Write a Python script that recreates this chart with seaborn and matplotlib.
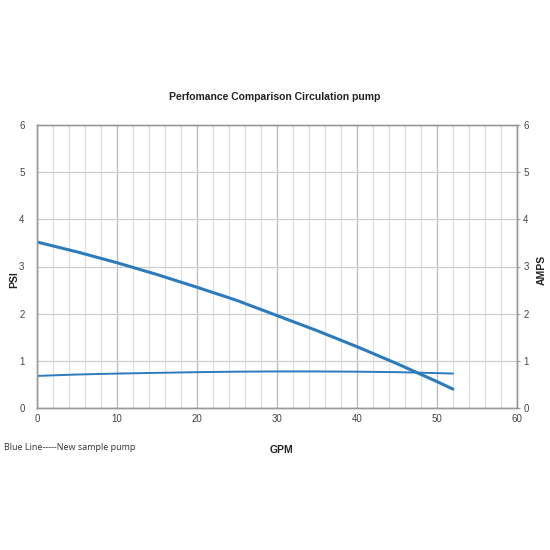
import numpy as np
import pandas as pd
import matplotlib
matplotlib.use("Agg")
import matplotlib.pyplot as plt
import seaborn as sns

gpm = [0, 5, 10, 15, 20, 25, 30, 35, 40, 45, 47.5, 50, 52]
psi = [3.52, 3.31, 3.08, 2.83, 2.56, 2.28, 1.96, 1.64, 1.30, 0.94, 0.75, 0.56, 0.40]
amps = [0.68, 0.71, 0.73, 0.745, 0.76, 0.77, 0.775, 0.775, 0.77, 0.76, 0.75, 0.74, 0.73]

df = pd.DataFrame({"GPM": gpm, "PSI": psi, "AMPS": amps})

sns.set_style("white")
plt.rcParams["font.family"] = ["Liberation Sans", "DejaVu Sans"]

fig = plt.figure(figsize=(5.5, 5.5), dpi=100)
ax = fig.add_axes([37 / 550, 1 - 408 / 550, 480 / 550, 283 / 550])
ax2 = ax.twinx()

blue = "#2b7bbd"
sns.lineplot(data=df, x="GPM", y="PSI", ax=ax, color=blue, linewidth=2.2)
sns.lineplot(data=df, x="GPM", y="AMPS", ax=ax2, color=blue, linewidth=1.4)

for a in (ax, ax2):
    a.set_ylim(0, 6)
    a.set_xlim(0, 60)
    a.set_yticks(range(0, 7))
    a.set_xlabel("")
    a.set_ylabel("")

ax.set_xticks(range(0, 61, 10))
ax.set_xticks(range(0, 61, 2), minor=True)
ax.grid(axis="x", which="minor", color="#e0e0e0", linewidth=0.9)
ax.grid(axis="x", which="major", color="#bdbdbd", linewidth=1.0)
ax.grid(axis="y", which="major", color="#cfcfcf", linewidth=0.9)
ax.set_axisbelow(True)

ax.tick_params(axis="both", which="both", length=0, labelsize=7, colors="#444444", pad=4)
ax2.tick_params(axis="y", length=2.5, labelsize=7, colors="#444444", pad=2, color="#999999")
ax.tick_params(axis="y", pad=9)

for a in (ax, ax2):
    for s in a.spines.values():
        s.set_color("#9a9a9a")
        s.set_linewidth(1.0)

fig.text(0.5, 1 - 97 / 550, "Perfomance Comparison Circulation pump",
         ha="center", va="center", fontsize=7.5, fontweight="bold", color="#222222")
fig.text(282 / 550, 1 - 450 / 550, "GPM", ha="center", va="center",
         fontsize=7.5, fontweight="bold", color="#222222")
fig.text(14 / 550, 1 - 280 / 550, "PSI", ha="center", va="center", rotation=90,
         fontsize=7.5, fontweight="bold", color="#222222")
fig.text(542 / 550, 1 - 270 / 550, "AMPS", ha="center", va="center", rotation=90,
         fontsize=7.5, fontweight="bold", color="#222222")
fig.text(4 / 550, 1 - 447 / 550, "Blue Line-----New sample pump", ha="left", va="center",
         fontsize=6.5, color="#333333", family=["Open Sans", "DejaVu Sans"])

fig.savefig("out.png", dpi=100)
